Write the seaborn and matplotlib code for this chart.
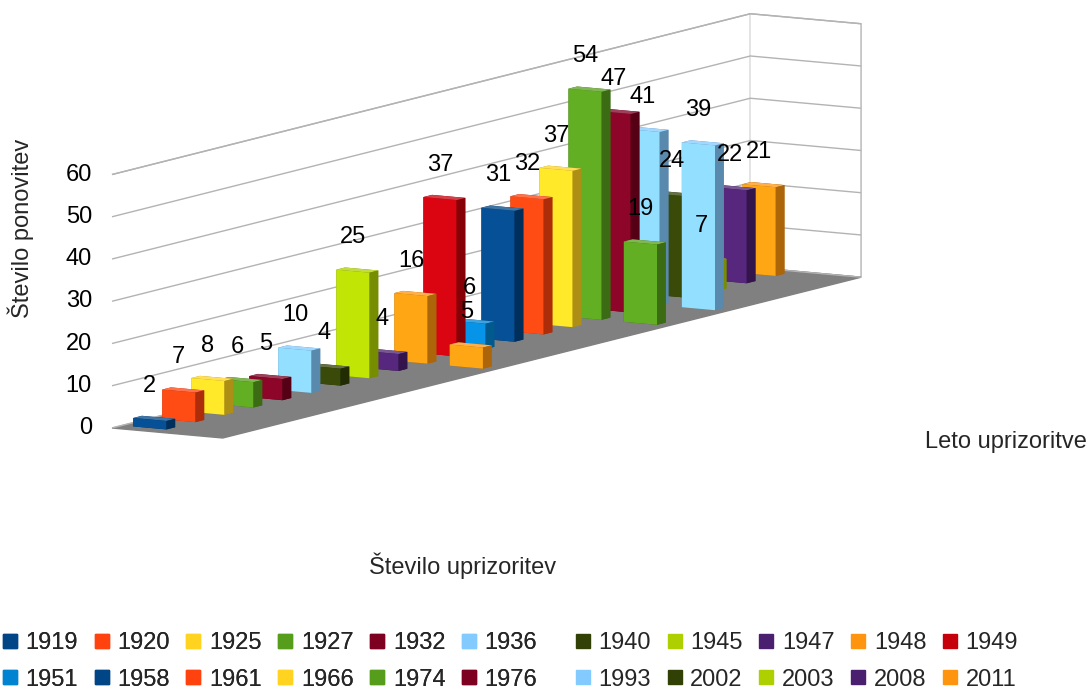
import numpy as np
import matplotlib
matplotlib.use("Agg")
import matplotlib.pyplot as plt
import matplotlib.colors as mcolors
import matplotlib.transforms as mtransforms
from matplotlib.lines import Line2D
from mpl_toolkits.mplot3d import proj3d
import seaborn as sns

# Years of staging (one series per year)
years = ["1919", "1920", "1925", "1927", "1932", "1936", "1940", "1945", "1947",
         "1948", "1949", "1951", "1958", "1961", "1966", "1974", "1976", "1993",
         "2002", "2003", "2008", "2011"]
# Number of repeat performances, first and second production of the year
first_production = [2, 7, 8, 6, 5, 10, 4, 25, 4, 16, 37, 6, 31, 32, 37, 54, 47,
                    41, 24, 7, 22, 21]
second_production = [0, 0, 0, 0, 0, 0, 0, 0, 0, 5, 0, 0, 0, 0, 0, 19, 0, 39,
                     0, 0, 0, 0]
value_ticks = [0, 10, 20, 30, 40, 50, 60]

base_colors = ["#004586", "#ff420e", "#ffd320", "#579d1c", "#7e0021", "#83caff",
               "#314004", "#aecf00", "#4b1f6f", "#ff950e", "#c5000b", "#0084d1"]

sns.set_theme(style="white")
plt.rcParams["font.family"] = ["Liberation Sans", "DejaVu Sans"]
plt.rcParams["grid.color"] = "#b3b3b3"
plt.rcParams["grid.linewidth"] = 1.0
plt.rcParams["grid.linestyle"] = "-"
palette = sns.color_palette(base_colors, n_colors=len(years))

FS = 17
W, H = 1092, 690
fig = plt.figure(figsize=(W / 100, H / 100), dpi=100)
ax = fig.add_axes([0, 0, 1, 1], projection="3d", proj_type="ortho")
ax.set_box_aspect((129.3, 1245.4, 256.9))
ax.view_init(elev=8.67, azim=-59.1)
ax.patch.set_alpha(0)

x_lo, x_hi = -0.5, 1.5
y_lo, y_hi = -0.5, len(years) - 0.5
ax.set_xlim(x_lo, x_hi)
ax.set_ylim(y_lo, y_hi)
ax.set_zlim(value_ticks[0], value_ticks[-1])
ax.set_xticks([])
ax.set_yticks([])
ax.set_zticks(value_ticks)
ax.set_zticklabels([])
ax.zaxis._axinfo["tick"]["inward_factor"] = 0.0
ax.zaxis._axinfo["tick"]["outward_factor"] = 0.0
ax.grid(True)

edge = "#b3b3b3"
ax.xaxis.set_pane_color("white")
ax.yaxis.set_pane_color("white")
ax.zaxis.set_pane_color("#808080")
for axis in (ax.xaxis, ax.yaxis):
    axis.pane.set_edgecolor(edge)
    axis.pane.set_linewidth(1.0)
for axis in (ax.xaxis, ax.yaxis, ax.zaxis):
    axis.line.set_color((0, 0, 0, 0))
ax.zaxis.pane.set_edgecolor("#808080")


def face_colors(c):
    rgb = np.array(mcolors.to_rgb(c))
    front = np.clip(rgb * 1.08 + 0.02, 0, 1)
    top = np.clip(rgb + (1 - rgb) * 0.25, 0, 1)
    side = rgb * 0.68
    # order used by bar3d: -z, +z, -y, +y, -x, +x
    return [side, top, front, side, side, side]


dx, dy = 0.6, 0.3
label_points = []
for g, values in enumerate([first_production, second_production]):
    for i, v in enumerate(values):
        if v <= 0:
            continue
        ax.bar3d(g - dx / 2, i - dy / 2, 0, dx, dy, v,
                 color=face_colors(palette[i]), shade=False, linewidth=0)
        label_points.append((g, i - dy / 2, v + 8, str(v)))

# Fit the floor of the box into its place on the canvas
fig.canvas.draw()


def to_px(x, y, z):
    xs, ys, _ = proj3d.proj_transform(np.array([x]), np.array([y]),
                                      np.array([z]), ax.get_proj())
    return ax.transData.transform(np.column_stack([xs, ys]))[0]


pa = to_px(x_lo, y_lo, 0)
pb = to_px(x_hi, y_hi, 0)
ta = np.array([112.0, H - 428.0])
tb = np.array([860.0, H - 272.0])
k = np.linalg.norm(tb - ta) / np.linalg.norm(pb - pa)
pos = ax.get_position()
x0, y0, w = pos.x0 * W, pos.y0 * H, pos.width * W
nx0 = ta[0] - k * (pa[0] - x0)
ny0 = ta[1] - k * (pa[1] - y0)
nw = k * w
ax.set_position([nx0 / W, ny0 / H, nw / W, nw / H])
fig.canvas.draw()


def projected(x, y, z):
    xs, ys, _ = proj3d.proj_transform(np.array([x]), np.array([y]),
                                      np.array([z]), ax.get_proj())
    return xs[0], ys[0]


# Value labels above the bars
for x, y, z, s in label_points:
    px, py = projected(x, y, z)
    ax.text2D(px, py, s, transform=ax.transData, ha="center", va="center",
              fontsize=FS, color="black", zorder=1000)

# Value-axis tick labels along the front edge of the side wall
tick_tr = mtransforms.offset_copy(ax.transData, fig=fig, x=-20, y=0,
                                  units="dots")
for v in value_ticks:
    px, py = projected(x_lo, y_lo, v)
    ax.text2D(px, py, str(v), transform=tick_tr, ha="right", va="center",
              fontsize=FS, color="black")

# Axis titles
fig.text(21 / W, 1 - 228 / H, "Število ponovitev", rotation=90,
         ha="center", va="center", fontsize=FS)
fig.text(463 / W, 1 - 566 / H, "Število uprizoritev",
         ha="center", va="center", fontsize=FS)
fig.text(1006 / W, 1 - 442 / H, "Leto uprizoritve",
         ha="center", va="center", fontsize=FS)


# Legend: two rows, split in two blocks
def handle(i):
    return Line2D([], [], linestyle="none", marker="s", markersize=10,
                  markerfacecolor=palette[i], markeredgecolor=palette[i])


def legend_block(cols, x_left):
    hs, ls = [], []
    for j in cols:
        for i in (j, j + 11):
            hs.append(handle(i))
            ls.append(years[i])
    return fig.legend(hs, ls, ncol=len(cols), loc="upper left",
                      bbox_to_anchor=(x_left / W, 1 - 632 / H),
                      frameon=False, fontsize=FS, handlelength=0.6,
                      handletextpad=0.36, columnspacing=0.7,
                      labelspacing=0.62, borderpad=0, borderaxespad=0)


leg1 = legend_block(range(0, 6), 3)
fig.add_artist(leg1)
legend_block(range(6, 11), 576)

fig.savefig("out.png", dpi=100)
